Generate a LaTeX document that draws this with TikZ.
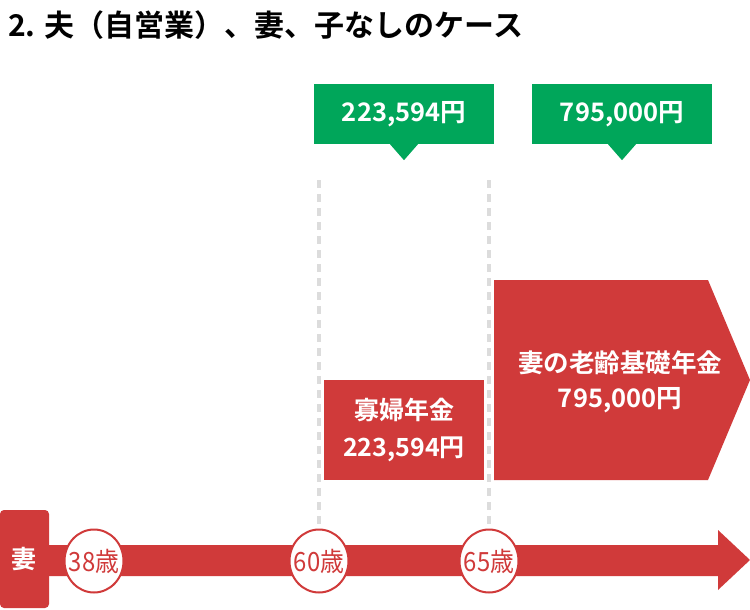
\documentclass[tikz,border=0pt]{standalone}
\usepackage{fontspec}
\setmainfont{Noto Sans CJK JP}[BoldFont={Noto Sans CJK JP Bold}]
\newfontfamily\agefont{Noto Sans CJK JP}[FakeStretch=0.9]
\usetikzlibrary{shapes.geometric}
\definecolor{jred}{RGB}{208,58,58}
\definecolor{jgreen}{RGB}{0,166,90}
\definecolor{dgray}{RGB}{220,220,220}
\tikzset{
  greenbox/.style={fill=jgreen, text=white, font=\bfseries\fontsize{25.5}{28}\selectfont, minimum width=180pt, minimum height=60pt, inner sep=0pt},
  redtext/.style={text=white, font=\bfseries\fontsize{25}{37}\selectfont, align=center},
  agecircle/.style={ellipse, draw=jred, line width=2pt, fill=white, minimum width=59pt, minimum height=63pt, inner sep=0pt, text=jred, font=\agefont\fontsize{26.5}{28}\selectfont},
  guide/.style={draw=dgray, line width=4pt, dash pattern=on 8pt off 6pt}
}
\newcommand{\agetext}[1]{\makebox[0pt]{#1}}
\begin{document}
\begin{tikzpicture}[x=1pt,y=-1pt]
\useasboundingbox (0,0) rectangle (750,610);
% title
\node[anchor=base west, inner sep=0pt, font=\bfseries\fontsize{30}{34}\selectfont] (title) at (8,37) {2. 夫（自営業）、妻、子なしのケース};
% guide lines
\coordinate (t1) at (319,180);
\coordinate (t2) at (489,180);
% axis arrow
\fill[jred] (35,545) -- (718,545) -- (718,530) -- (750,560) -- (718,590) -- (718,576) -- (35,576) -- cycle;
\node[agecircle] (c38) at (94,561) {\agetext{38歳}};
\node[agecircle] (c60) at (319,561) {\agetext{60歳}};
\node[agecircle] (c65) at (489,561) {\agetext{65歳}};
\draw[guide] (t1) -- (c60.north);
\draw[guide] (t2) -- (c65.north);
% wife label
\node[fill=jred, rounded corners=4pt, minimum width=49pt, minimum height=98pt, inner sep=0pt, text=white, font=\bfseries\fontsize{25}{28}\selectfont] (wife) at (24.5,559) {妻};
% green callouts
\node[greenbox] (g1) at (404,114) {223,594円};
\fill[jgreen] ([xshift=-14pt]g1.south) -- ++(14,16) -- ++(14,-16) -- cycle;
\node[greenbox] (g2) at (622,114) {795,000円};
\fill[jgreen] ([xshift=-14pt]g2.south) -- ++(14,16) -- ++(14,-16) -- cycle;
% widow pension box
\node[fill=jred, minimum width=160pt, minimum height=100pt, inner sep=0pt, redtext] (w) at (404,430) {寡婦年金\\223,594円};
% old-age basic pension pentagon
\fill[jred] (494,280) -- (708,280) -- (750,380) -- (708,480) -- (494,480) -- cycle;
\node[redtext, font=\bfseries\fontsize{25.5}{35}\selectfont] (p) at (620,382) {妻の老齢基礎年金\\795,000円};
\end{tikzpicture}
\end{document}
